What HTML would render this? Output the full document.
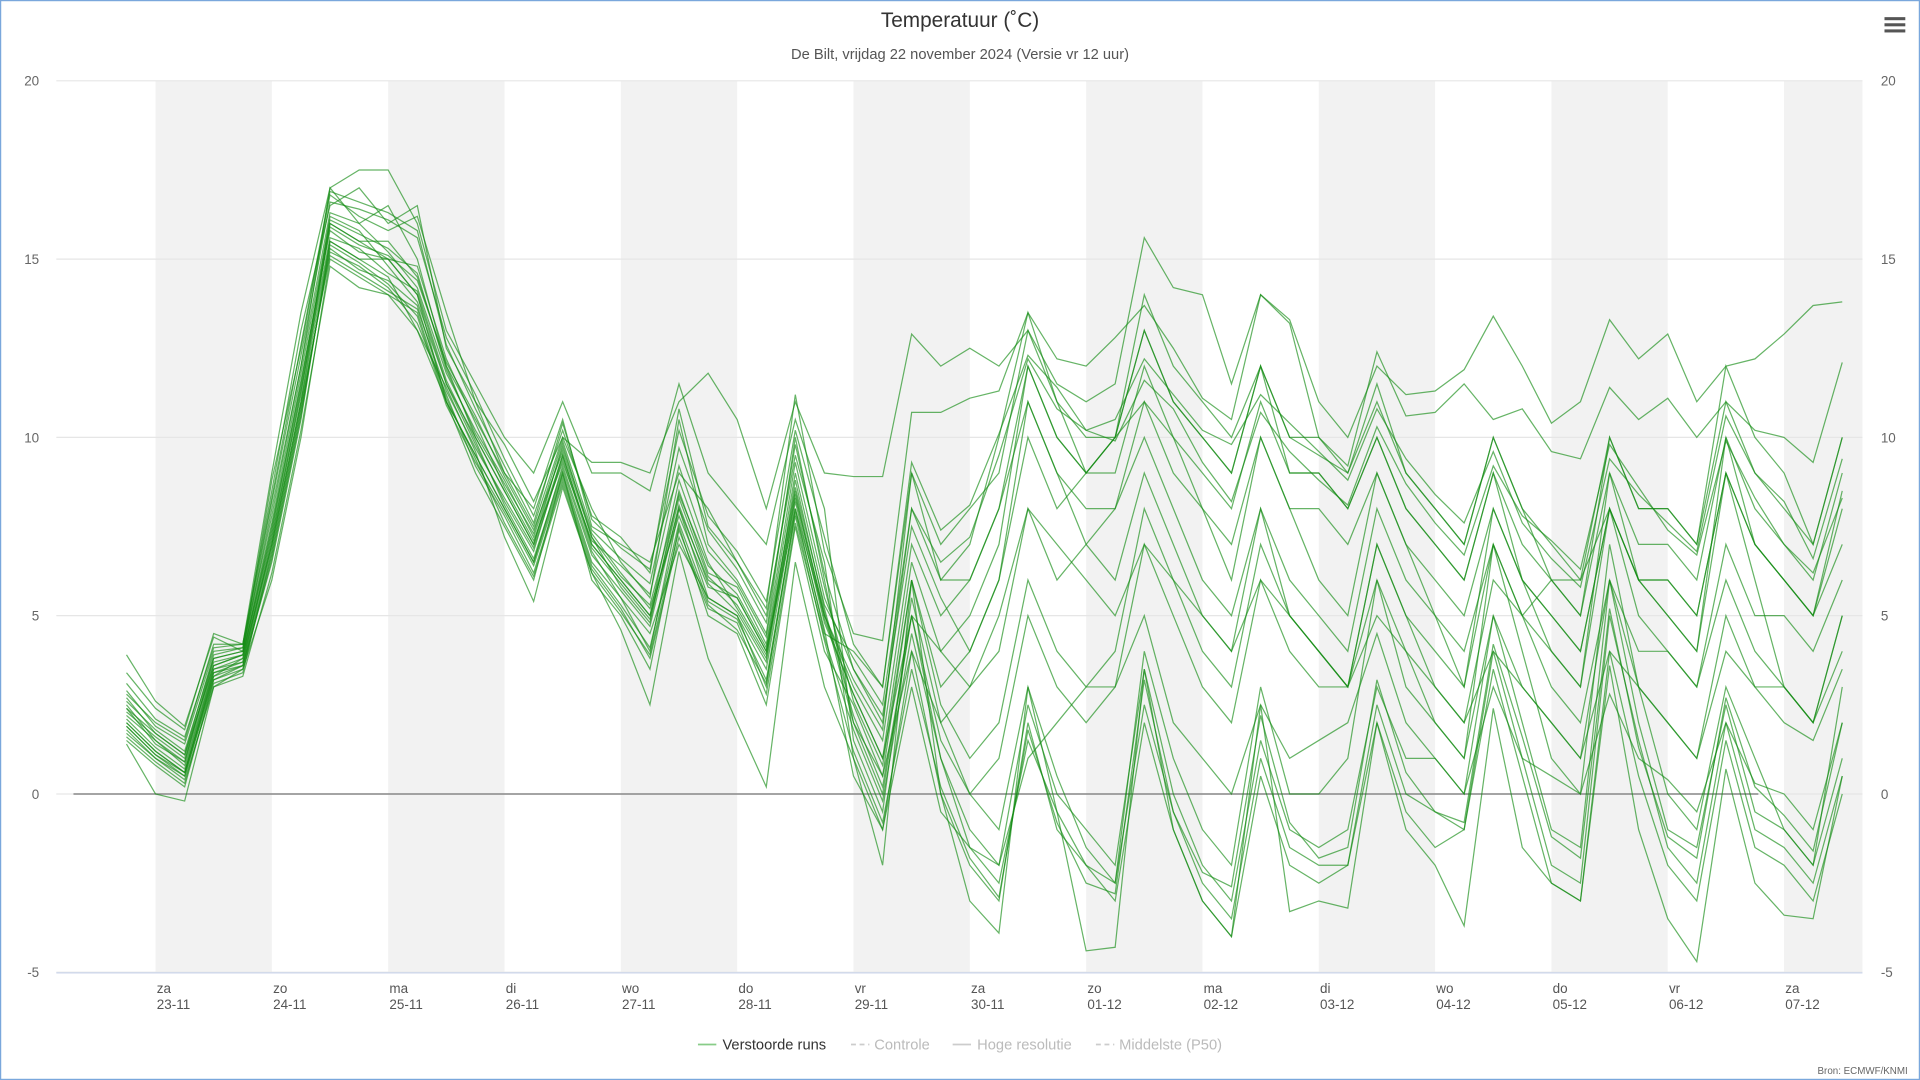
<!DOCTYPE html>
<html><head><meta charset="utf-8"><style>
html,body{margin:0;padding:0;background:#fff;}
svg{display:block;font-family:"Liberation Sans",sans-serif;}
</style></head><body>
<svg id="chart" width="1920" height="1080" viewBox="0 0 1568 882" preserveAspectRatio="none" xmlns="http://www.w3.org/2000/svg">
<rect x="0.5" y="0.5" width="1567" height="881" fill="#fff" stroke="#7aa7dc"/>
<g id="bands"></g><g id="grid"></g><g id="series"></g><g id="axes"></g>
<text x="784" y="22" text-anchor="middle" font-size="17" fill="#333">Temperatuur (˚C)</text>
<text x="784" y="48" text-anchor="middle" font-size="12" fill="#555">De Bilt, vrijdag 22 november 2024 (Versie vr 12 uur)</text>
<g><rect x="1539" y="14" width="17" height="2.5" fill="#555"/><rect x="1539" y="19" width="17" height="2.5" fill="#555"/><rect x="1539" y="24" width="17" height="2.5" fill="#555"/></g>
<g font-size="12">
<g><line x1="570" y1="853" x2="585" y2="853" stroke="#8c8" stroke-width="1.5"/><text x="590" y="857" fill="#333">Verstoorde runs</text></g>
<g><line x1="695" y1="853" x2="710" y2="853" stroke="#ccc" stroke-dasharray="4,3" stroke-width="1.5"/><text x="714" y="857" fill="#bbb">Controle</text></g>
<g><line x1="778" y1="853" x2="793" y2="853" stroke="#ccc" stroke-width="1.5"/><text x="798" y="857" fill="#bbb">Hoge resolutie</text></g>
<g><line x1="895" y1="853" x2="910" y2="853" stroke="#ccc" stroke-dasharray="4,3" stroke-width="1.5"/><text x="914" y="857" fill="#bbb">Middelste (P50)</text></g>
</g>
<text x="1558" y="877" text-anchor="end" font-size="8" fill="#666">Bron: ECMWF/KNMI</text>
</svg>
<script>
const dayLabels=["za","zo","ma","di","wo","do","vr","za","zo","ma","di","wo","do","vr","za"];
const dateLabels=["23-11","24-11","25-11","26-11","27-11","28-11","29-11","30-11","01-12","02-12","03-12","04-12","05-12","06-12","07-12"];
const yTicks=[-5,0,5,10,15,20];
const tStart=-0.25, tStep=0.25;
const early=[
[2.2,1.5,0.8,3.5,3.8,7,11,16,15.5,15,14,11.5,10,8.5,7,9.5,7,6,5,8,6,5.5,4,8.5,5],
[2.6,1.8,1.2,3.8,4.0,8,12,17,16,16.5,15,12,10.5,9,7.5,10,8,6.5,5.5,10.5,7,6,4.5,10,6],
[1.8,1.0,0.4,3.0,3.5,6,10,15,14.5,14,13.5,11,9.5,8,6.5,9,6.5,5.5,4.5,7,5.5,5,3,8,4.5],
[2.8,2.0,1.5,4.2,4.2,8.5,13,16.5,17,16,16.5,12.5,11,9,8,10.5,7.5,7,6.5,9,8,6.5,5,9.5,6.5],
[1.5,0.8,0.2,3.2,3.6,6.5,10.5,15.5,15,14.5,13,11,9,7.5,6,9,6,5,3.5,7.5,5,4.5,2.5,7.5,4],
[2.4,1.4,0.9,3.6,3.9,7.5,11.5,16,15.5,15.5,14.5,12,10,8.5,7,9.8,7.2,5.8,4.8,8.5,6.2,5.8,4.2,9,5.5],
[3.4,2.4,1.8,4.5,4.2,9,13.5,17,17.5,17.5,16,13,11.5,10,9,11,9,9,8.5,11.5,9,8,7,10.5,8],
[2.0,1.2,0.6,3.4,3.7,7,11,15.5,15,15,14,11,9.5,8,6.5,9.2,6.8,5.5,4,8,5.5,5,3.5,8.2,4.8],
[1.9,1.1,0.5,3.3,3.8,7.2,11.2,16.2,15.8,14.8,13.8,11.5,9.8,8.2,6.8,9.5,7,6,5,8.8,6.5,5.2,3.8,8.8,5.2],
[2.7,1.7,1.1,3.9,4.1,7.8,12,16.3,16,15.2,14.2,11.8,10.2,8.8,7.2,9.7,7.3,6.2,5.2,7.8,5.8,5.5,4,8,5],
[2.3,1.6,1.0,3.7,3.9,7.4,11.6,15.8,15.2,15,14.8,12.2,10.4,8.6,7.1,9.3,7.1,6.4,5.6,9.2,6.8,5.9,4.4,9.3,5.8],
[1.6,0.9,0.3,3.1,3.4,6.8,10.8,15.2,14.8,14.2,13.2,11.2,9.2,7.8,6.2,8.8,6.3,5.2,3.8,7.2,5.2,4.8,2.8,7.6,4.4],
[3.9,2.6,1.9,4.4,4.0,8.8,12.5,16.8,16.2,15.8,16.2,13.5,11,9.8,8.2,10,9.3,9.3,9,11,11.8,10.5,8,11,9],
[1.4,0.0,-0.2,3.0,3.3,6.2,10.2,14.8,14.2,14.0,13.0,11.4,9.6,7.2,5.4,8.6,6.2,4.6,2.5,6.8,3.8,2.0,0.2,6.5,3],
[2.9,1.9,1.4,4.0,4.1,8.2,12.3,16.6,16.4,16.1,15.6,12.8,11.2,9.4,7.8,10.2,7.8,7.2,6.2,10.8,7.5,6.5,5.2,11.2,6.8],
[2.1,1.3,0.7,3.5,3.7,7.1,11.3,15.6,15.3,14.6,14.1,11.6,9.9,8.1,6.6,9.1,6.7,5.7,4.7,8.1,5.9,5.1,3.7,8.4,4.9],
[2.5,1.5,0.9,3.8,4.0,7.6,11.8,16.1,15.7,15.3,14.6,11.9,10.1,8.7,7.3,9.9,7.4,6.6,5.9,9.7,7.4,6.3,4.8,9.8,6.2],
[1.7,1.0,0.5,3.2,3.5,6.6,10.6,15.4,14.9,14.3,13.4,10.9,9.3,7.9,6.4,8.9,6.4,5.3,4.1,7.6,5.4,4.9,3.2,7.9,4.6],
[2.4,1.7,1.1,3.6,3.9,7.3,11.4,15.9,15.4,15.1,14.4,12.1,10.6,8.9,7.4,9.6,7.2,6.1,5.3,8.4,6.4,5.6,4.1,8.6,5.3],
[2.0,1.2,0.6,3.4,3.6,6.9,10.9,15.1,14.6,14.1,13.6,11.3,9.7,8.3,6.9,9.4,6.9,5.9,4.9,8.3,6.1,5.3,3.9,8.3,5.1],
[3.1,2.1,1.6,4.1,4.2,8.3,12.6,16.9,16.6,16.3,15.8,12.6,10.8,9.2,7.6,10.4,7.7,6.9,6.3,10.2,7.8,6.8,5.4,10.2,7.2],
[1.9,1.1,0.6,3.3,3.6,6.7,10.7,15.3,14.7,14.4,13.7,11.1,9.4,7.6,6.1,8.7,6.2,5.1,3.9,7.4,5.3,4.6,3.1,7.8,4.3]
];
const late=[
[3,1.5,7,5,6,8,12,10,9,9,12,10,9,8,11,9,9,8,10,8,7,6,9,7,6,5,9,7,7,6,10,8,7,6,9],
[2,0,5,1,-1,-2,2.5,0,-1,-2,3.5,0,-2,-3,1.5,-1,-1.5,-1,3,1,1,0,5,2,-1,-1.5,6,2,-1,-1.5,2.5,-0.5,-1,-2,1],
[4,3,9,7,8,9,13,11,10,10,13,11,10,9,12,10,9.5,9,11,9,8,7,10,8,7,6,10,8,8,7,11,9,8,7,10],
[1,-1,4,0,-2,-3,2,-1,-2,-2.5,4,1,-1,-2,3,0,0,1,6,3,2,1,7,4,1,0,7,3,0,-1,3,1,-1,-2,3],
[2.5,0.5,6,3,4,6,11,9,8,8,11,9,8,7,10,8,8,7,9,7,6,5,8,6,5,4,8,6,6,5,9,7,6,5,8],
[3.5,2,8,6,7,10,13.5,11,9,10,14,12,11,10,12,10,10,9,11.5,9,8,7,10,8,6,5,10,8,8,7,12,10,9,7,10],
[1.5,-0.5,5.5,2,0,-1,3,0.5,-1.5,-2.5,2.5,-0.5,-2.5,-3.5,1,-1.5,-2,-2,2.5,0,-0.5,-1,4,1,-2,-2.5,5,1.5,-1.5,-2.5,2,-1,-1.5,-2.5,0.5],
[2.8,1,6.5,4,5,7,12,10,9,10,13,11,10,9,12,9,9,8,10,8,7,6,9,6,5,4,8,6,6,5,9,7,6,5,8.5],
[2.2,0.2,5,1.5,0,1,5,3,2,3,7,5,3,2,6,4,3,3,7,5,4,3,8,6,4,3,9,6,5,4,10,7,6,5,7],
[3.2,1.8,9,6,6,8,11,9,7,6,9,7,5,4,8,6,5,4,8,6,5,4,7,5,3,2,6,4,4,3,7,5,5,4,6],
[2.6,0.8,6,2.5,1,2,6,4,3,4,8,6,4,3,7,5,4,3,6,4,2,1,5,3,2,1,6,3,2,1,5,3,3,2,5],
[1.8,-0.2,4.5,1,-1.5,-2.5,1.5,-0.5,-2,-3,2,-1,-3,-4,0.5,-2,-2.5,-2,2,-0.5,-1.5,-1,3.5,0.5,-2.5,-3,4,0.5,-2,-3,1.5,-1.5,-2,-3,0],
[8.9,8.9,12.9,12,12.5,12,13,11.5,11,11.5,15.6,14.2,14,11.5,14,13.3,11,10,12,11.2,11.3,11.9,13.4,12,10.4,11,13.3,12.2,12.9,11,12,12.2,12.9,13.7,13.8],
[1,-2,6,0,-3,-3.9,3,-0.5,-4.4,-4.3,3.5,-1,-3,-4,2.5,-3.3,-3,-3.2,2,-1,-2,-3.7,2.4,-1.5,-2.5,-3,3.6,-1,-3.5,-4.7,0.7,-2.5,-3.4,-3.5,0.5],
[4.5,4.3,10.7,10.7,11.1,11.3,13.5,12.2,12,12.8,13.7,12.5,11.1,10.5,14,13.2,10,9.2,12.4,10.6,10.7,11.5,10.5,10.8,9.6,9.4,11.4,10.5,11.1,10,11,10.2,10,9.3,12.1],
[2.8,1,5,4,3,4,8,6,7,8,10,8,6,5,8,5,4,3,7,5,3,2,6,5,6,6,8,6,5,4,9,6,3,2,5],
[3.5,2.2,7.5,5.5,4,6,10,8,9,10,11,10,8,6,10,8,6,5,9,7,5,3,7,5,4,3,8,5,4,3,6,4,3,2,4],
[0.5,-1,3,-0.5,-1.5,-2,1,2,3,3,5,2,1,0,2.5,1,1.5,2,4.5,2,1,0,3,1,0.5,0,2.8,1,0.4,-0.5,2,0.3,0,-1,2],
[3.8,2.5,8,6.5,7.2,9.5,12.2,10.8,10.2,10.5,12.2,11.2,10.2,9.8,11.2,10.4,9.6,8.8,10.8,9.4,8.4,7.6,9.6,7.6,6.6,5.8,9.4,8.4,7.6,6.8,10.6,9,8.2,6.6,9.4],
[2,0.5,4,2,3,5,8,7,6,5,7,6,5,4,6,5,4,3,5,4,3,2,4,3,2,1,4,3,2,1,4,3,2,1.5,3.5],
[4.2,3,9.3,7.4,8.1,10.1,12.3,11.4,10.2,9.9,11.6,10.8,9.3,8.2,10.7,9.6,8.8,8.1,10.3,8.7,7.6,6.7,9.2,7.8,7.1,6.3,9.8,8.6,7.4,6.7,9.9,8.3,7,6.2,8.3],
[1.2,-0.8,3.5,0.2,-1.8,-2.9,1.8,-0.8,-2.5,-2.8,3.2,-0.5,-2.2,-2.6,2.2,-0.8,-1.8,-1.5,3.2,0.6,-0.5,-0.8,4.2,1.6,-1.2,-1.8,5.2,1.3,-1.2,-1.8,2.7,0.2,-0.6,-1.6,2]
];
const NS="http://www.w3.org/2000/svg";
const xDom=[-0.853,14.674], xRng=[46,1521], yDom=[-5,20], yRng=[794,66];
function xS(t){return xRng[0]+(t-xDom[0])/(xDom[1]-xDom[0])*(xRng[1]-xRng[0]);}
function yS(v){return yRng[0]+(v-yDom[0])/(yDom[1]-yDom[0])*(yRng[1]-yRng[0]);}
function mk(tag,attrs,parent){const e=document.createElementNS(NS,tag);for(const k in attrs)e.setAttribute(k,attrs[k]);parent.appendChild(e);return e;}
const bands=document.getElementById('bands'),grid=document.getElementById('grid'),series=document.getElementById('series'),axes=document.getElementById('axes');
for(let d=0;d<dayLabels.length;d+=2){
 const x0=xS(d),x1=Math.min(xS(d+1),xRng[1]);
 const r=mk('rect',{x:x0,y:66,width:x1-x0,height:728,fill:'#f2f2f2'},bands);
 
 
}
yTicks.forEach(v=>{
 const l=mk('line',{x1:46,x2:1521,y1:yS(v),y2:yS(v),stroke:'#e6e6e6'},grid);
 
 
 const a=mk('text',{x:32,y:yS(v)+4,'text-anchor':'end','font-size':11,fill:'#666'},axes);a.textContent=v;
 
 
 const b=mk('text',{x:1536,y:yS(v)+4,'font-size':11,fill:'#666'},axes);b.textContent=v;
 
 
});
const ax=mk('line',{x1:46,x2:1521,y1:794.5,y2:794.5,stroke:'#ccd6eb'},axes);


dayLabels.forEach((d,i)=>{
 const x=xS(i)+1;
 const t1=mk('text',{x:x,y:811,'font-size':11,fill:'#555'},axes);t1.textContent=d;
 
 
 const t2=mk('text',{x:x,y:824,'font-size':11,fill:'#555'},axes);t2.textContent=dateLabels[i];
 
 
});
const z=mk('line',{x1:60,x2:1436,y1:yS(0),y2:yS(0),stroke:'#888','stroke-width':1.2},series);


for(let m=0;m<early.length;m++){
 const vals=early[m].concat(late[m]);
 const pts=vals.map((v,i)=>xS(tStart+i*tStep).toFixed(1)+','+yS(v).toFixed(1)).join(' ');
 const p=mk('polyline',{points:pts,fill:'none',stroke:'rgba(20,140,20,0.65)','stroke-width':1},series);
 
 
}
</script>
</body></html>
